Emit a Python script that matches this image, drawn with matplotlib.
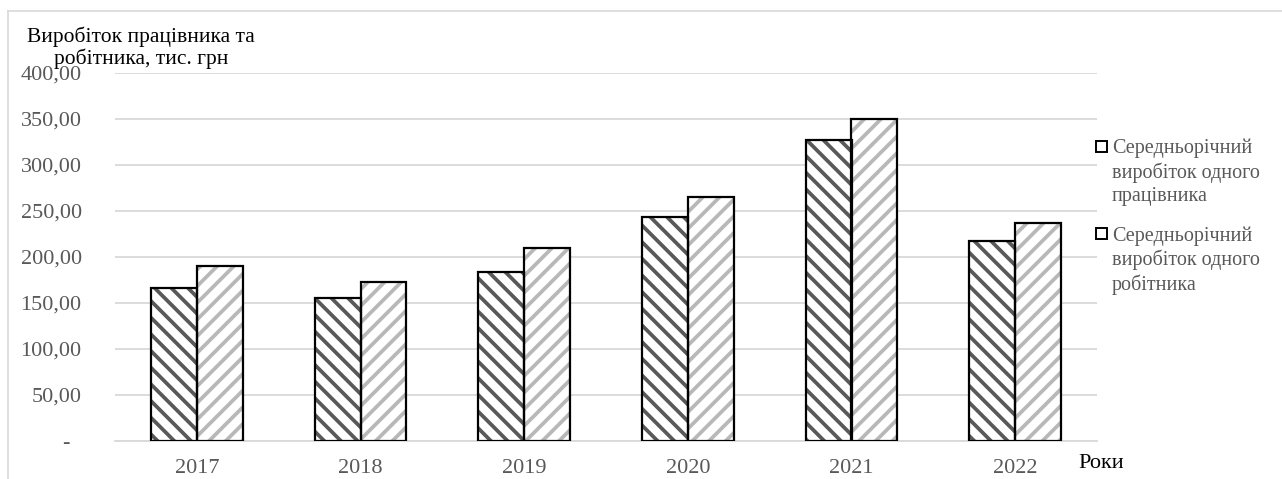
import matplotlib as ml
ml.use('Agg')
import matplotlib.pyplot as plt
from matplotlib.patches import Rectangle
from matplotlib.lines import Line2D
import numpy as np

# data
years = ['2017', '2018', '2019', '2020', '2021', '2022']
per_worker = [166.5, 155.5, 184.0, 244.0, 327.0, 217.5]    # працівник
per_labourer = [190.5, 173.0, 210.0, 265.0, 350.5, 237.0]  # робітник
yticks = [0, 50, 100, 150, 200, 250, 300, 350, 400]
series_names = ['Середньорічний\nвиробіток одного\nпрацівника',
                'Середньорічний\nвиробіток одного\nробітника']

plt.rcParams['font.family'] = ['Liberation Serif', 'DejaVu Serif']
plt.rcParams['hatch.linewidth'] = 2.7

W, H = 1282, 479
fig = plt.figure(figsize=(W / 100.0, H / 100.0), dpi=100)
ax = fig.add_axes([115.0 / W, 1 - 441.0 / H, (1097.0 - 115.0) / W, (441.0 - 73.0) / H])

x = np.arange(len(years))
bw = 0.28
# hatch layer (edge colour sets hatch colour), then black outline on top
ax.bar(x - bw / 2, per_worker, bw, color='white', edgecolor='#595959', hatch='\\\\', linewidth=0, zorder=2)
ax.bar(x + bw / 2, per_labourer, bw, color='white', edgecolor='#b8b8b8', hatch='//', linewidth=0, zorder=2)
ax.bar(x - bw / 2, per_worker, bw, color='none', edgecolor='black', linewidth=1.6, zorder=3)
ax.bar(x + bw / 2, per_labourer, bw, color='none', edgecolor='black', linewidth=1.6, zorder=3)

ax.set_xlim(-0.5, len(years) - 0.5)
ax.set_ylim(0, 400)
ax.set_yticks(yticks)
ax.set_yticklabels(['-  ' if v == 0 else ('%.2f' % v).replace('.', ',') for v in yticks])
ax.set_xticks(x)
ax.set_xticklabels(years)
ax.tick_params(axis='both', length=0, colors='#595959', labelsize=16)
ax.tick_params(axis='y', pad=24)
ax.tick_params(axis='x', pad=13)
ax.grid(axis='y', color='#d9d9d9', linewidth=1.3, zorder=0)
ax.set_axisbelow(True)
for s in ['top', 'right', 'left']:
    ax.spines[s].set_visible(False)
ax.spines['bottom'].set_color('#d9d9d9')
ax.spines['bottom'].set_linewidth(1.3)

# axis titles
fig.text(141.0 / W, 1 - 48.0 / H, 'Виробіток працівника та\nробітника, тис. грн',
         ha='center', va='center', fontsize=15.5, color='black', linespacing=1.1)
fig.text(1078.0 / W, 1 - 463.0 / H, 'Роки', ha='left', va='center', fontsize=16, color='black')

# legend drawn by hand so the square sits at the first line
for k, (name, ytop) in enumerate(zip(series_names, [140, 227])):
    fig.add_artist(Rectangle((1096.0 / W, 1 - (ytop + 12) / H), 11.0 / W, 11.0 / H,
                             transform=fig.transFigure, facecolor='white',
                             edgecolor='black', linewidth=1.4))
    fig.text(1112.0 / W, 1 - (ytop - 1) / H, name, ha='left', va='top',
             fontsize=14.5, color='#595959', linespacing=1.28)

# light frame of the chart area
fig.add_artist(Line2D([8.0 / W, 1.0], [1 - 10.5 / H, 1 - 10.5 / H], transform=fig.transFigure,
                      color='#d9d9d9', linewidth=1.2))
fig.add_artist(Line2D([8.0 / W, 8.0 / W], [0, 1 - 10.5 / H], transform=fig.transFigure,
                      color='#d9d9d9', linewidth=1.2))

fig.savefig('out.png', dpi=100)
